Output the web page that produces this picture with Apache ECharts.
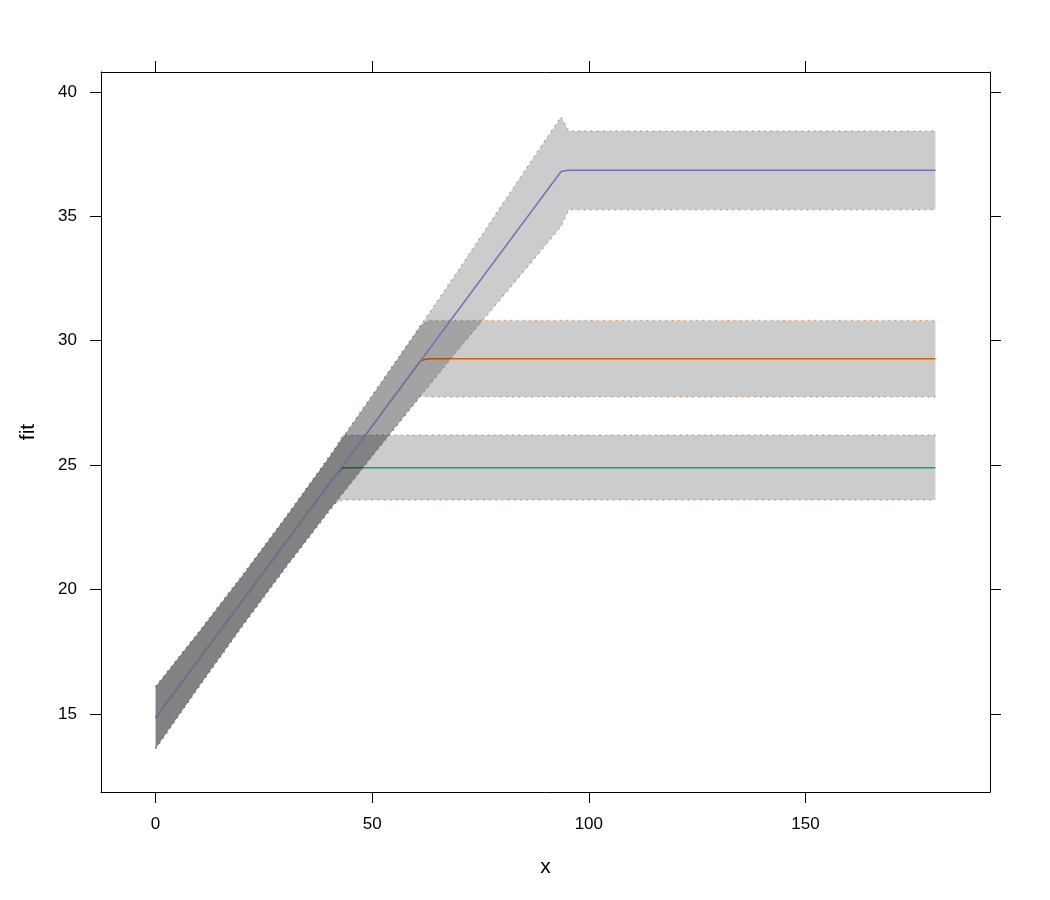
<!DOCTYPE html>
<html>
<head>
<meta charset="utf-8">
<script src="https://cdn.jsdelivr.net/npm/echarts@6/dist/echarts.min.js"></script>
<style>
html,body{margin:0;padding:0;background:#fff;}
#chart{width:1050px;height:900px;}
</style>
</head>
<body>
<div id="chart"></div>
<script>
// ---- data ----
const xTicks = [0, 50, 100, 150];
const yTicks = [15, 20, 25, 30, 35, 40];

const greenFitX = [0, 41.4, 43.2, 180];
const greenFitY = [14.85, 24.56, 24.89, 24.89];
const orangeFitX = [0, 61.2, 63.0, 180];
const orangeFitY = [14.85, 29.20, 29.27, 29.27];
const purpleFitX = [0, 93.6, 95.4, 180];
const purpleFitY = [14.85, 36.80, 36.85, 36.85];

const greenBandX = [0, 10, 20, 30, 40, 41.4, 43.2, 180];
const greenUpper = [16.09, 18.29, 20.55, 22.89, 25.31, 25.65, 26.21, 26.21];
const greenLower = [13.61, 16.10, 18.53, 20.88, 23.15, 23.47, 23.60, 23.60];

const orangeBandX = [0, 10, 20, 30, 40, 50, 60, 61.2, 63.0, 180];
const orangeUpper = [16.09, 18.29, 20.55, 22.89, 25.31, 27.80, 30.31, 30.61, 30.81, 30.81];
const orangeLower = [13.61, 16.10, 18.53, 20.88, 23.15, 25.36, 27.53, 27.79, 27.74, 27.74];

const purpleBandX = [0, 10, 20, 30, 40, 50, 60, 70, 80, 90, 93.6, 95.4, 180];
const purpleUpper = [16.09, 18.29, 20.55, 22.89, 25.31, 27.80, 30.31, 32.86, 35.47, 38.08, 39.00, 38.43, 38.43];
const purpleLower = [13.61, 16.10, 18.53, 20.88, 23.15, 25.36, 27.53, 29.67, 31.75, 33.84, 34.60, 35.26, 35.26];

const colors = { green: '#1B9E77', orange: '#D95F02', purple: '#7570B3' };
const edgeColors = { green: 'rgba(27,158,119,0.55)', orange: 'rgba(217,95,2,0.55)', purple: 'rgba(117,112,179,0.6)' };

const FONT = '"Liberation Sans", Arial, Helvetica, sans-serif';

function bandSeries(name, xs, up, lo, edge, z) {
  return {
    name: name,
    type: 'custom',
    coordinateSystem: 'cartesian2d',
    z: z,
    clip: true,
    silent: true,
    data: xs.map((x, i) => [x, up[i], lo[i]]),
    encode: { x: 0, y: [1, 2] },
    renderItem: function (params, api) {
      if (params.dataIndex !== 0) return null;
      const upPts = xs.map((x, i) => api.coord([x, up[i]]));
      const loPts = xs.map((x, i) => api.coord([x, lo[i]]));
      const poly = upPts.concat(loPts.slice().reverse());
      return {
        type: 'group',
        children: [
          { type: 'polygon', shape: { points: poly }, style: { fill: 'rgba(0,0,0,0.2)', stroke: null } },
          { type: 'polyline', shape: { points: upPts }, style: { fill: null, stroke: edge, lineWidth: 1.5, lineDash: [1.5, 4.7] } },
          { type: 'polyline', shape: { points: loPts }, style: { fill: null, stroke: edge, lineWidth: 1.5, lineDash: [1.5, 4.7] } }
        ]
      };
    }
  };
}

function lineSeries(name, xs, ys, color, z) {
  return {
    name: name,
    type: 'line',
    z: z,
    symbol: 'none',
    silent: true,
    animation: false,
    data: xs.map((x, i) => [x, ys[i]]),
    lineStyle: { color: color, width: 1.5 }
  };
}

const axisCommon = {
  axisLine: { show: true, onZero: false, lineStyle: { color: '#000', width: 1 } },
  splitLine: { show: false }
};

const option = {
  animation: false,
  backgroundColor: '#fff',
  grid: { left: 101, top: 72, width: 889, height: 720, containLabel: false },
  xAxis: [
    Object.assign({}, axisCommon, {
      type: 'value', position: 'bottom', min: -12.6, max: 192.6,
      name: 'x', nameLocation: 'middle', nameGap: 65,
      nameTextStyle: { fontFamily: FONT, fontSize: 21, color: '#000' },
      axisTick: { show: true, inside: false, length: 11, customValues: xTicks, lineStyle: { color: '#000' } },
      axisLabel: { show: true, margin: 24, customValues: xTicks, fontFamily: FONT, fontSize: 17, color: '#000' }
    }),
    Object.assign({}, axisCommon, {
      type: 'value', position: 'top', min: -12.6, max: 192.6,
      axisTick: { show: true, inside: false, length: 11, customValues: xTicks, lineStyle: { color: '#000' } },
      axisLabel: { show: false }
    })
  ],
  yAxis: [
    Object.assign({}, axisCommon, {
      type: 'value', position: 'left', min: 11.86, max: 40.8,
      name: 'fit', nameLocation: 'middle', nameGap: 62, nameRotate: 90,
      nameTextStyle: { fontFamily: FONT, fontSize: 21, color: '#000' },
      axisTick: { show: true, inside: false, length: 11, customValues: yTicks, lineStyle: { color: '#000' } },
      axisLabel: { show: true, margin: 24, customValues: yTicks, fontFamily: FONT, fontSize: 17, color: '#000' }
    }),
    Object.assign({}, axisCommon, {
      type: 'value', position: 'right', min: 11.86, max: 40.8,
      axisTick: { show: true, inside: false, length: 11, customValues: yTicks, lineStyle: { color: '#000' } },
      axisLabel: { show: false }
    })
  ],
  series: [
    bandSeries('green band', greenBandX, greenUpper, greenLower, edgeColors.green, 1),
    lineSeries('green', greenFitX, greenFitY, colors.green, 2),
    bandSeries('orange band', orangeBandX, orangeUpper, orangeLower, edgeColors.orange, 3),
    lineSeries('orange', orangeFitX, orangeFitY, colors.orange, 4),
    bandSeries('purple band', purpleBandX, purpleUpper, purpleLower, edgeColors.purple, 5),
    lineSeries('purple', purpleFitX, purpleFitY, colors.purple, 6)
  ]
};

const chart = echarts.init(document.getElementById('chart'), null, { renderer: 'canvas' });
chart.setOption(option);
</script>
</body>
</html>
